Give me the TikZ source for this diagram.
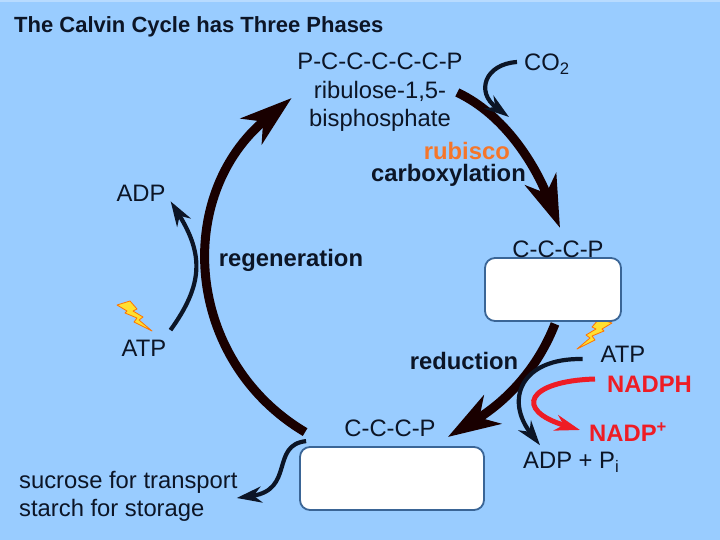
\documentclass[tikz,border=0pt]{standalone}
\usepackage{fontspec}
\setmainfont{Liberation Sans}
\usetikzlibrary{arrows.meta}
\definecolor{skyc}{HTML}{99CCFF}
\definecolor{inkc}{HTML}{0C1526}
\definecolor{edgec}{HTML}{3A6596}
\definecolor{rubc}{HTML}{F5762A}
\definecolor{redc}{HTML}{EE1C25}
\definecolor{boltc}{HTML}{FFE030}
\tikzset{
	lab/.style={font=\fontsize{23.8}{28.5}\selectfont, text=inkc, inner sep=0pt, align=center},
	blab/.style={lab, font=\fontsize{23.8}{28.5}\selectfont\bfseries},
	pbox/.style={draw=edgec, line width=1.8pt, fill=white, rounded corners=10pt, inner sep=0pt},
	bigarrow/.style={line width=9pt, draw=black!90!red, -{Stealth[length=52pt,width=33pt,inset=15pt]}},
	thinarrow/.style={line width=4.2pt, draw=inkc, -{Stealth[length=25pt,width=16pt,inset=8pt]}},
	bolt/.pic={\draw[fill=boltc, draw=orange!90!red, line width=0.8pt, line join=round]
		(0,0)--(-18,-9)--(-15,-13)--(-27,-18)--(-25,-20)--(-35,-26)--(-22,-30)--(-15,-22)--(-19,-20)--(-9,-14)--(-13,-11)--cycle;}
}
\begin{document}
\begin{tikzpicture}[x=1pt,y=-1pt, line cap=butt]
	\fill[skyc] (0,0) rectangle (720,540);
	\fill[skyc!70!white] (0,0) rectangle (720,2.5);
	\useasboundingbox (0,0) rectangle (720,540);
	\node[blab, font=\fontsize{22}{26}\selectfont\bfseries, anchor=west] (title) at (14,27) {The Calvin Cycle has Three Phases};
	% bolts
	\pic at (152,331) {bolt};
	\pic[xscale=-1] at (577,349) {bolt};
	% boxes
	\node[pbox, minimum width=136pt, minimum height=63pt] (boxtop) at (553,289.5) {};
	\node[pbox, minimum width=184pt, minimum height=63pt] (boxbot) at (392,478.5) {};
	% labels
	\node[lab] (rubp) at (380,92.5) {P-C-C-C-C-C-P\\ribulose-1,5-\\bisphosphate};
	\node[lab, anchor=west] (co2) at (524,64) {CO\textsubscript{2}};
	\node[blab, text=rubc, anchor=east] (rubisco) at (510,151) {rubisco};
	\node[blab, anchor=east] (carb) at (526,175) {carboxylation};
	\node[lab] (pgatop) at (558,249) {C-C-C-P};
	\node[blab] (regen) at (291,260.5) {regeneration};
	\node[blab] (redu) at (464,361) {reduction};
	\node[lab] (pgabot) at (390,428) {C-C-C-P};
	\node[lab] (adpl) at (141,193) {ADP};
	\node[lab] (atpl) at (144,348) {ATP};
	\node[lab] (atpr) at (623,354) {ATP};
	\node[blab, text=redc, anchor=west] (nadph) at (607,384.5) {NADPH};
	\node[blab, text=redc, anchor=west] (nadp) at (589,432) {NADP\textsuperscript{+}};
	\node[lab, anchor=west] (adppi) at (523,462) {ADP + P\textsubscript{i}};
	\node[lab, align=left, anchor=west] (sugar) at (19,496.5) {sucrose for transport\\starch for storage};
	% main cycle
	\draw[bigarrow] ([xshift=-5.5pt]rubp.east) .. controls (505,115) and (535,165) .. ([xshift=2pt,yshift=12.5pt]pgatop.north);
	\draw[bigarrow] ([xshift=2pt,yshift=-2pt]boxtop.south) .. controls (535,375) and (500,405) .. ([xshift=12pt,yshift=-9pt]pgabot.east);
	\draw[bigarrow] ([xshift=6pt,yshift=14pt]boxbot.north west) .. controls (184,360) and (174,195) .. ([xshift=-5.5pt,yshift=-5.5pt]rubp.west);
	% side arrows
	\coordinate (co2in) at (509,117);
	\draw[thinarrow] ([xshift=-7pt,yshift=2pt]co2.west) .. controls (485,64) and (475,92) .. (co2in);
	\draw[thinarrow] ([xshift=4pt,yshift=9.5pt]atpl.north east) .. controls (203,285) and (204,255) .. ([xshift=5pt]adpl.south east);
	\draw[thinarrow] ([xshift=-18pt,yshift=-5pt]atpr.west) .. controls (520,358) and (505,400) .. ([xshift=17pt,yshift=6.5pt]adppi.north west);
	\draw[thinarrow, draw=redc, line width=5pt] ([xshift=-12pt,yshift=5.5pt]nadph.west) .. controls (527,381) and (513,410) .. ([xshift=-9pt,yshift=2pt]nadp.west);
	\draw[thinarrow] ([xshift=7pt,yshift=5pt]boxbot.north west) .. controls (270,445) and (295,490) .. ([xshift=-1pt,yshift=-1.5pt]sugar.east);
\end{tikzpicture}
\end{document}
